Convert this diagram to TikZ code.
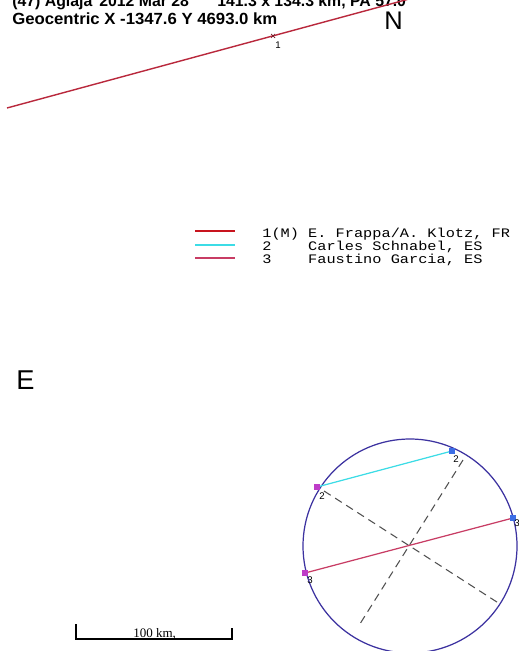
\documentclass[tikz,border=0pt]{standalone}
\usepackage{fontspec}
\usepackage{graphicx}
\setmainfont{Liberation Sans}
\newfontfamily\monofont{Liberation Mono}
\newfontfamily\seriffont{Liberation Serif}
\definecolor{chordone}{RGB}{185,40,60}
\definecolor{legone}{RGB}{200,20,30}
\definecolor{cyanc}{RGB}{60,220,230}
\definecolor{chordthree}{RGB}{200,60,100}
\definecolor{circc}{RGB}{60,50,160}
\definecolor{dashc}{RGB}{80,80,80}
\definecolor{lendc}{RGB}{190,60,200}
\definecolor{rendc}{RGB}{60,110,230}
\begin{document}
\begin{tikzpicture}[x=0.02cm,y=-0.02cm,
  titletext/.style={font=\bfseries\fontsize{9}{10}\selectfont, anchor=base west, inner sep=0},
  bigletter/.style={font=\fontsize{14.5}{16}\selectfont, anchor=base west, inner sep=0},
  legendtext/.style={font=\monofont\fontsize{8.7}{10}\selectfont, anchor=base west, inner sep=0},
  smalllabel/.style={font=\fontsize{5.5}{6}\selectfont, inner sep=0},
  legline/.style={line width=1.2pt},
  chord/.style={line width=0.7pt},
  axisline/.style={dashc, line width=0.6pt, dash pattern=on 4.5pt off 3pt},
  endmark/.style={minimum size=3pt, inner sep=0, draw=none}
]
\useasboundingbox (0,0) rectangle (519,651);
\clip (0,0) rectangle (519,651);
\fill[white] (0,0) rectangle (519,651);

% title
\node[titletext] (title1a) at (12,7) {(47) Aglaja};
\node[titletext] (title1b) at (99,7) {2012 Mar 28};
\node[titletext] (title1c) at (217,7) {141.3 x 134.3 km, PA 57.0};
\node[titletext, font=\bfseries\fontsize{9.2}{10}\selectfont] (title2) at (12,25) {\scalebox{1.035}[1]{Geocentric X -1347.6 Y 4693.0 km}};
\node[bigletter] (north) at (384,30) {N};
\node[bigletter, font=\fontsize{15.5}{17}\selectfont] (east) at (16,389) {E};

% chord 1 (far above)
\coordinate (c1a) at (7,108);
\coordinate (c1b) at (420,-4);
\draw[chordone, line width=0.8pt] (c1a) -- (c1b);
\coordinate (c1m) at (273,36);
\draw[chordone!60!black, line width=0.4pt] ([shift={(-2,-2)}]c1m) -- ([shift={(2,2)}]c1m)
  ([shift={(-2,2)}]c1m) -- ([shift={(2,-2)}]c1m);
\node[smalllabel] (lab1) at (278,45) {1};

% legend
\coordinate (l1a) at (195,231); \coordinate (l1b) at (235,231);
\coordinate (l2a) at (195,245); \coordinate (l2b) at (235,245);
\coordinate (l3a) at (195,258); \coordinate (l3b) at (235,258);
\draw[legline, legone] (l1a) -- (l1b);
\draw[legline, cyanc] (l2a) -- (l2b);
\draw[legline, chordthree] (l3a) -- (l3b);
\node[legendtext] (leg1) at (262,238) {\scalebox{1}[0.85]{1(M) E. Frappa/A. Klotz, FR}};
\node[legendtext] (leg2) at (262,251) {\scalebox{1}[0.85]{2\ \ \ \ Carles Schnabel, ES}};
\node[legendtext] (leg3) at (262,264) {\scalebox{1}[0.85]{3\ \ \ \ Faustino Garcia, ES}};

% ellipse (circle)
\coordinate (ctr) at (410,546);
\draw[circc, line width=0.7pt] (ctr) circle [radius=107];

% axes
\coordinate (ax1a) at (324,491); \coordinate (ax1b) at (500,604);
\coordinate (ax2a) at (463,460); \coordinate (ax2b) at (358,627);
\draw[axisline] (ax1a) -- (ax1b);
\draw[axisline] (ax2a) -- (ax2b);

% chord 2
\coordinate (c2a) at (317,487); \coordinate (c2b) at (452,451);
\draw[chord, cyanc] (c2a) -- (c2b);
% chord 3
\coordinate (c3a) at (305,573); \coordinate (c3b) at (513,518);
\draw[chord, chordthree] (c3a) -- (c3b);

\node[endmark, fill=lendc] (m2a) at (c2a) {};
\node[endmark, fill=rendc] (m2b) at (c2b) {};
\node[endmark, fill=lendc] (m3a) at (c3a) {};
\node[endmark, fill=rendc] (m3b) at (c3b) {};

\node[smalllabel] (lab2a) at (322,496) {2};
\node[smalllabel] (lab2b) at (456,459) {2};
\node[smalllabel] (lab3a) at (310,580) {3};
\node[smalllabel] (lab3b) at (517,523) {3};

% scale bar
\coordinate (sb1) at (76,624); \coordinate (sb2) at (76,639);
\coordinate (sb3) at (232,639); \coordinate (sb4) at (232,628);
\draw[line width=0.6pt] (sb1) -- (sb2) -- (sb3) -- (sb4);
\node[inner sep=0, anchor=base west, font=\seriffont\fontsize{7.4}{8}\selectfont] (sblab) at (133,637) {100 km,};
\end{tikzpicture}
\end{document}
